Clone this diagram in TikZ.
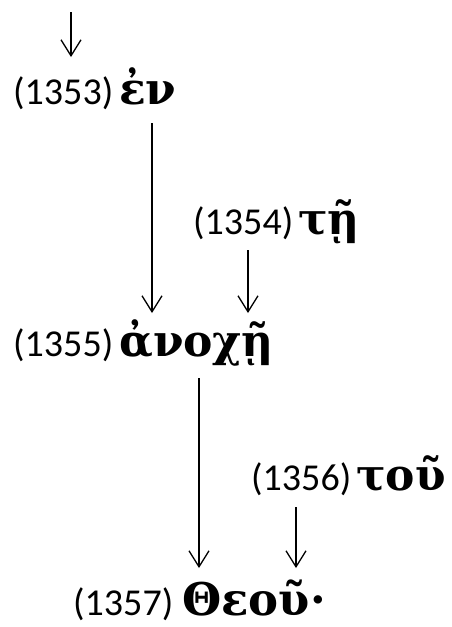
\documentclass[tikz,border=0pt]{standalone}
\usepackage{fontspec}
\setmainfont{Carlito}
\newfontfamily\grk{DejaVu Serif}
\usetikzlibrary{arrows.meta}
\begin{document}
\begin{tikzpicture}[x=1pt,y=-1pt,
  num/.style={inner sep=0pt,anchor=base west,font=\fontsize{38}{38}\selectfont},
  gw/.style={inner sep=0pt,anchor=base west,font=\grk\bfseries\fontsize{44}{44}\selectfont},
  gwl/.style={gw,font=\grk\bfseries\fontsize{45}{45}\selectfont},
  arr/.style={line width=1.3pt,-{Straight Barb[length=16pt,width=20pt,line width=1.3pt]}}]
\useasboundingbox (0,0) rectangle (452,627);
\node[num] (n1353) at (13,104) {(1353)};
\node[gw]  (g1353) at (119,104) {ἐν};
\node[num] (n1354) at (193,234) {(1354)};
\node[gw]  (g1354) at (298,234) {τῇ};
\node[num] (n1355) at (13,356) {(1355)};
\node[gw]  (g1355) at (119,356) {ἀνοχῇ};
\node[num] (n1356) at (251,490) {(1356)};
\node[gw]  (g1356) at (356,490) {τοῦ};
\node[num] (n1357) at (73,615) {(1357)};
\node[gwl] (g1357) at (182,615) {Θεοῦ·};
\coordinate (in) at (71,12);
\draw[arr] (in) -- ([xshift=58pt,yshift=47pt]n1353.base west);
\draw[arr] ([xshift=33pt,yshift=-19pt]g1353.base west) -- ([xshift=33pt,yshift=43pt]g1355.base west);
\draw[arr] ([xshift=55pt,yshift=-16pt]n1354.base west) -- ([xshift=129pt,yshift=43pt]g1355.base west);
\draw[arr] ([xshift=80pt,yshift=-22pt]g1355.base west) -- ([xshift=17pt,yshift=47pt]g1357.base west);
\draw[arr] ([xshift=45pt,yshift=-17pt]n1356.base west) -- ([xshift=114pt,yshift=47pt]g1357.base west);
\end{tikzpicture}
\end{document}
